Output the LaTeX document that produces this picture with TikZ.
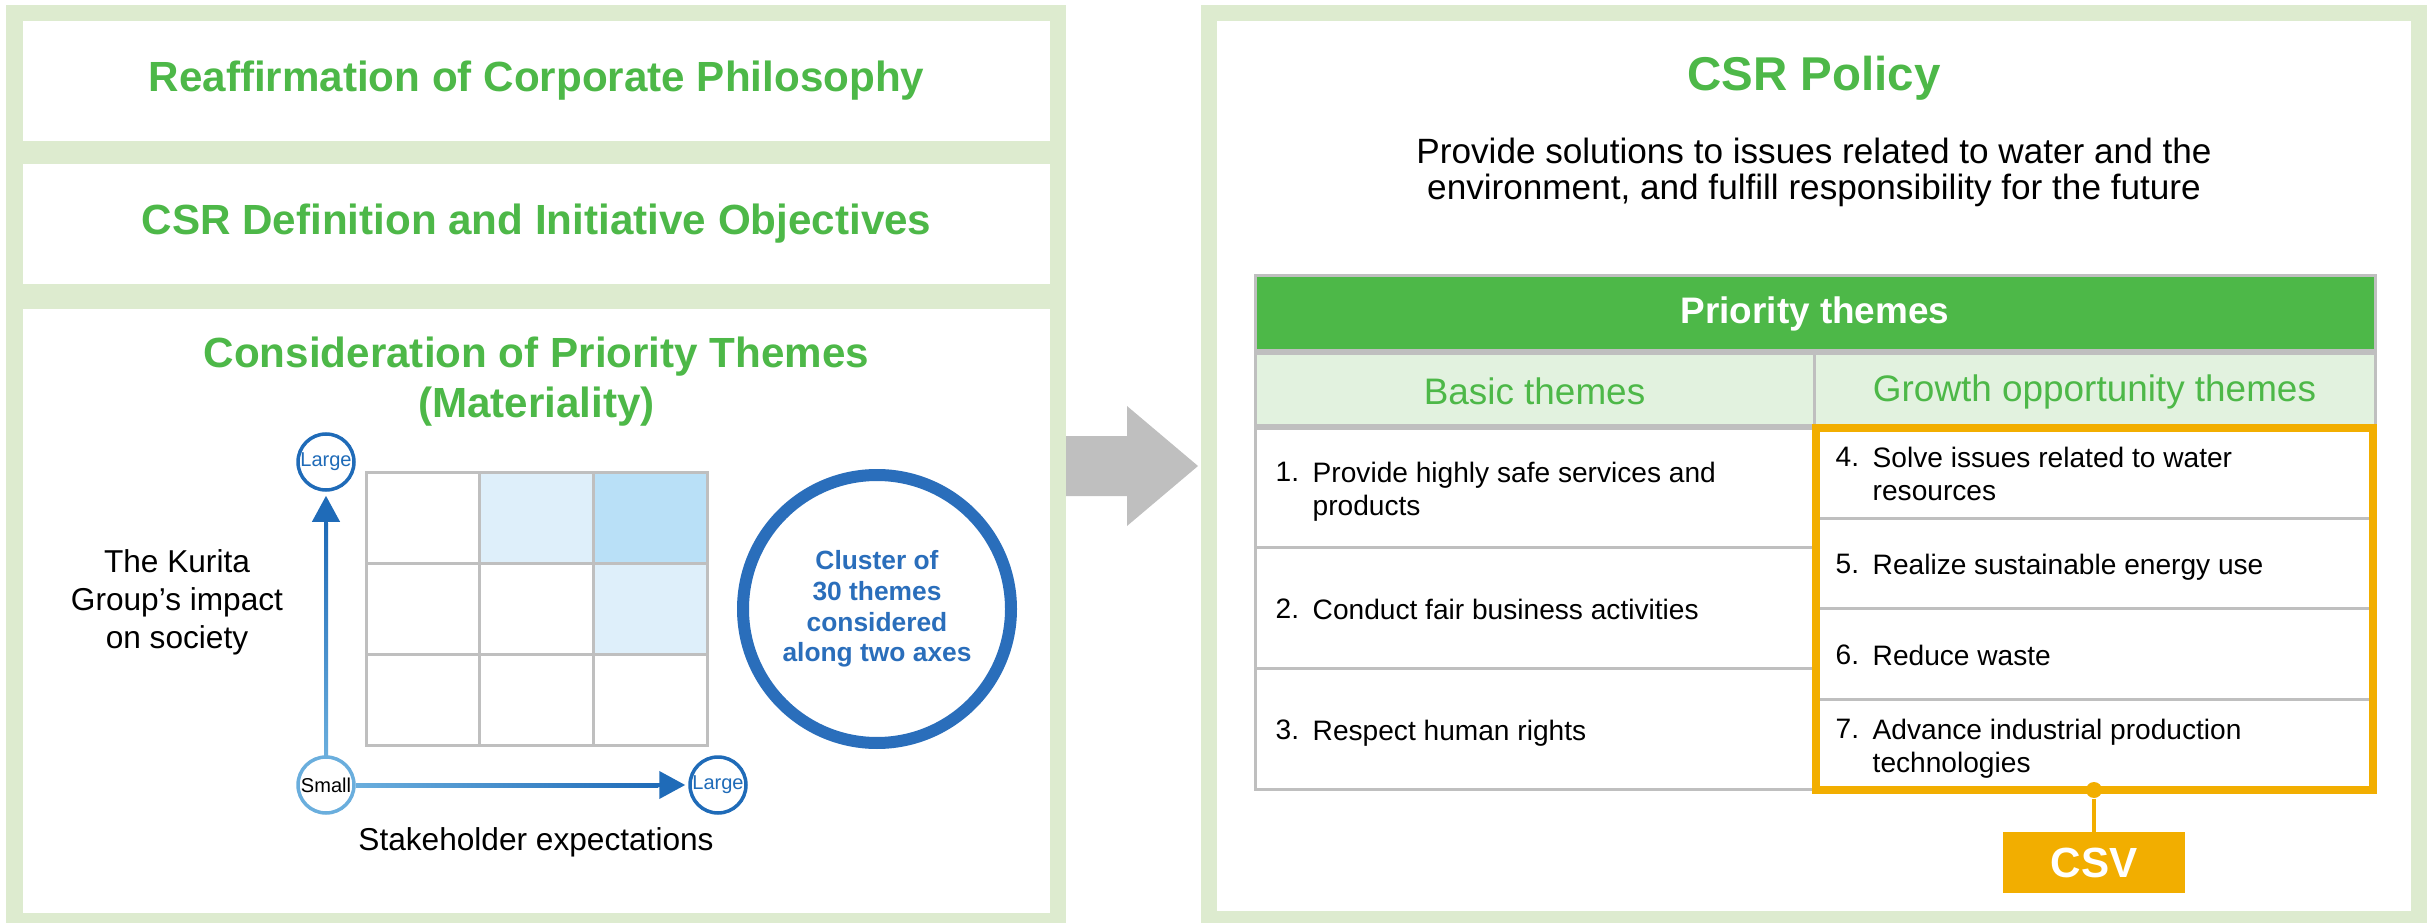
\documentclass[tikz,border=0pt]{standalone}
\usepackage{fontspec}
\setmainfont{Liberation Sans}
\usetikzlibrary{calc}
\usetikzlibrary{arrows.meta, positioning}

\definecolor{framegreen}{HTML}{DDEBCF}
\definecolor{titlegreen}{HTML}{4DB848}
\definecolor{subgreen}{HTML}{E2F2DF}
\definecolor{gridgray}{HTML}{BFBFBF}
\definecolor{cellpale}{HTML}{DEEFFA}
\definecolor{celldeep}{HTML}{B9E0F7}
\definecolor{darkblue}{HTML}{1F6BB8}
\definecolor{lightblue}{HTML}{6AAEDD}
\definecolor{ringblue}{HTML}{2A6EBB}
\definecolor{csvorange}{HTML}{F2AE00}

\tikzset{
  whitebox/.style={fill=white, inner sep=0pt},
  heading/.style={text=titlegreen, align=center, font=\fontsize{12}{14.2}\selectfont\bfseries},
  endlarge/.style={circle, draw=darkblue, fill=white, line width=0.35mm, minimum size=5.6mm, inner sep=0pt, text=darkblue, font=\fontsize{5.7}{6}\selectfont},
  endsmall/.style={endlarge, draw=lightblue, text=black},
  axisarrow/.style={-{Triangle[length=2.6mm,width=2.7mm]}, line width=0.4mm, darkblue},
  plainlabel/.style={align=center, font=\fontsize{9}{10.8}\selectfont},
  ring/.style={circle, draw=ringblue, line width=1.2mm, minimum size=26.8mm, align=center, text=ringblue, font=\fontsize{7.5}{8.7}\selectfont\bfseries},
  cellline/.style={draw=gridgray, line width=0.3mm},
  headrow/.style={draw=gridgray, line width=0.3mm, fill=titlegreen, minimum width=112mm, minimum height=7.5mm, text=white, font=\fontsize{10.5}{12}\selectfont\bfseries},
  subhead/.style={draw=gridgray, line width=0.3mm, fill=subgreen, minimum width=56mm, minimum height=7.5mm, text=titlegreen, font=\fontsize{10.5}{12}\selectfont},
  itemnum/.style={anchor=north west, inner sep=0pt, font=\fontsize{8}{9.6}\selectfont},
  itemtext/.style={itemnum, align=left},
  csvframe/.style={draw=csvorange, line width=0.8mm},
  csvdot/.style={circle, fill=csvorange, minimum size=1.6mm, inner sep=0pt},
  csvbox/.style={fill=csvorange, minimum width=18.2mm, minimum height=6.1mm, text=white, font=\fontsize{12}{14}\selectfont\bfseries}
}

\begin{document}
\begin{tikzpicture}[x=0.1mm, y=-0.1mm]
\useasboundingbox (0,0) rectangle (2433,923);

% Left panel, green frame with three white boxes
\fill[framegreen] (6,5) rectangle (1066,923);
\node[whitebox, heading, minimum width=102.7mm, minimum height=12mm] (philosophy) at (536.5,81) {Reaffirmation of Corporate Philosophy};
\node[whitebox, heading, minimum width=102.7mm, minimum height=12mm] (definition) at (536.5,224) {CSR Definition and Initiative Objectives};
\fill[white] (23,309) rectangle (1050,913);
\node[heading] (materiality) at (536.5,382) {Consideration of Priority Themes\\(Materiality)};

% Matrix cells, shaded ones first
\fill[cellpale] (479.7,472) rectangle ++(113.7,91);
\fill[celldeep] (593.4,472) rectangle ++(113.7,91);
\fill[cellpale] (593.4,563) rectangle ++(113.7,91);
\foreach \c in {0,1,2}
{
    \foreach \r in {0,1,2}
    {
        \draw[cellline] (366+\c*113.7,472+\r*91) rectangle ++(113.7,91);
    }
}

% Axes
\node[endsmall] (small) at (326,785) {Small};
\node[endlarge] (largey) at (326,462) {Large};
\node[endlarge] (largex) at (718,785) {Large};
\draw[axisarrow, shorten >=0.4mm] (small) -- (largey);
\draw[axisarrow, shorten >=0.3mm] (small) -- (largex);
\shade[bottom color=lightblue, top color=darkblue] ($(small.north)+(-2,0)$) rectangle ($(largey.south)+(2,32)$);
\shade[left color=lightblue, right color=darkblue] ($(small.east)+(0,-2)$) rectangle ($(largex.west)+(-30,2)$);

% Labels
\node[plainlabel] (impact) at (177,602) {The Kurita\\Group’s impact\\on society};
\node[plainlabel] (expectations) at (536,842) {Stakeholder expectations};
\node[ring] (cluster) at (877,609) {Cluster of\\30 themes\\considered\\along two axes};

% Gray arrow between panels
\fill[gridgray] (1066,436) -- (1127,436) -- (1127,406) -- (1198,466) -- (1127,526) -- (1127,496) -- (1066,496) -- cycle;

% Right panel
\fill[framegreen] (1201,5) rectangle (2427,923);
\fill[white] (1217,21) rectangle (2411,911);
\node[text=titlegreen, font=\fontsize{13.5}{16}\selectfont\bfseries] (policy) at (1814,78) {CSR Policy};
\node[align=center, font=\fontsize{10}{10.24}\selectfont] (mission) at (1814,172) {Provide solutions to issues related to water and the\\environment, and fulfill responsibility for the future};

% Table heads
\node[headrow] (priority) at (1815,313.5) {Priority themes};
\node[subhead, anchor=north west, minimum width=55.9mm] (basic) at (priority.south west) {Basic themes};
\node[subhead, anchor=north east, minimum width=56.1mm] (growth) at (priority.south east) {Growth opportunity themes};

% Basic theme rows
\foreach \i in {0,1,2}
{
    \draw[cellline] (1255,426+\i*121.3) rectangle ++(559,121.3);
}
\foreach \n/\y/\t in {1/461/{Provide highly safe services and\\products}, 2/598/{Conduct fair business activities}, 3/719/{Respect human rights}}
{
    \node[itemtext] (item\n) at (1312,\y) {\t};
    \node[itemnum] (num\n) at ($(item\n.north west)+(-37,0)$) {\n.};
}

% Growth opportunity rows inside the CSV frame
\foreach \y in {518,608,699}
{
    \draw[cellline] (1820,\y) -- (2369,\y);
}
\foreach \n/\y/\t in {4/446/{Solve issues related to water\\resources}, 5/553/{Realize sustainable energy use}, 6/644/{Reduce waste}, 7/718/{Advance industrial production\\technologies}}
{
    \node[itemtext] (item\n) at (1872,\y) {\t};
    \node[itemnum] (num\n) at ($(item\n.north west)+(-37,0)$) {\n.};
}
\draw[csvframe] (1816,428) rectangle (2373,790);

% CSV tag
\node[csvdot] (csvjoin) at (2094,790) {};
\node[csvbox, below=3.3mm of csvjoin] (csv) {CSV};
\draw[csvorange, line width=0.4mm] (csvjoin) -- (csv);

\end{tikzpicture}
\end{document}
